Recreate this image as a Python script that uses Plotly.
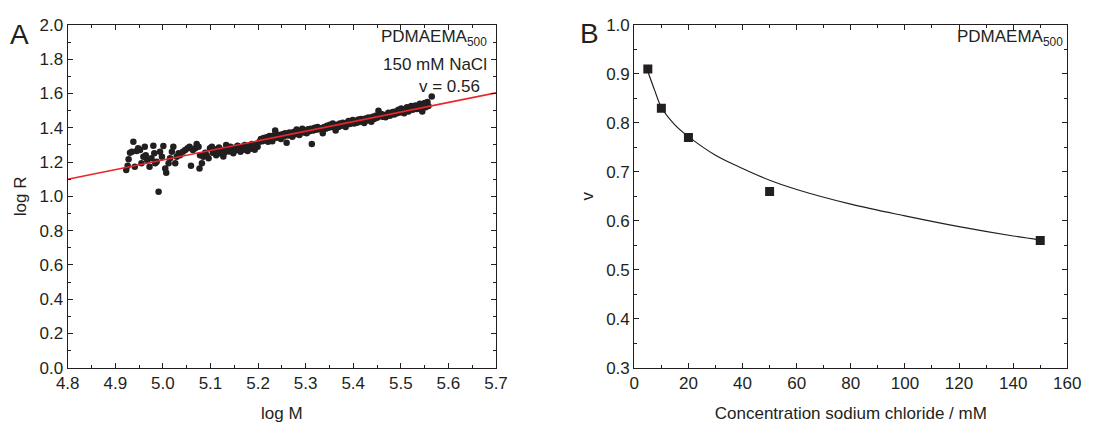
import plotly.graph_objects as go

# Panel A: log M vs log R scatter
logM = [4.923, 4.926, 4.928, 4.931, 4.935, 4.938, 4.941, 4.945, 4.948, 4.952, 4.955, 4.959, 4.962, 4.964,
        4.967, 4.972, 4.976, 4.980, 4.982, 4.984, 4.987, 4.991, 4.994, 4.998, 5.001, 5.005, 5.007, 5.012,
        5.015, 5.019, 5.022, 5.026, 5.029, 5.033, 5.036, 5.042, 5.047, 5.052, 5.056, 5.059, 5.063, 5.068,
        5.071, 5.075, 5.077, 5.078, 5.082, 5.085, 5.089, 5.092, 5.096, 5.099, 5.103,
        5.105, 5.108, 5.112, 5.115, 5.118, 5.121, 5.124, 5.127, 5.130, 5.133, 5.136, 5.139, 5.142, 5.145,
        5.148, 5.151, 5.154, 5.157, 5.160, 5.163, 5.166, 5.169, 5.172, 5.175, 5.178, 5.181, 5.184, 5.187,
        5.190, 5.193, 5.196, 5.199, 5.203, 5.206, 5.209, 5.212, 5.215, 5.218, 5.221, 5.224, 5.227, 5.230,
        5.233, 5.236, 5.239, 5.242, 5.245, 5.248, 5.251, 5.254, 5.257, 5.260, 5.263, 5.266, 5.269, 5.272,
        5.275, 5.278, 5.281, 5.284, 5.287, 5.290, 5.293, 5.296, 5.299, 5.302, 5.305, 5.308, 5.311, 5.313,
        5.316, 5.319, 5.322, 5.325, 5.328, 5.331, 5.336, 5.339, 5.342, 5.345, 5.348, 5.351, 5.354, 5.357,
        5.360, 5.363, 5.366, 5.369, 5.372, 5.375, 5.378, 5.381, 5.384, 5.387, 5.390, 5.393, 5.396, 5.399,
        5.402, 5.405, 5.408, 5.411, 5.414, 5.417, 5.420, 5.423, 5.426, 5.429, 5.432, 5.435, 5.438, 5.441,
        5.444, 5.447, 5.450, 5.453, 5.456, 5.459, 5.462, 5.465, 5.468, 5.471, 5.474, 5.477, 5.480, 5.483,
        5.486, 5.489, 5.492, 5.495, 5.498, 5.501, 5.504, 5.507, 5.510, 5.513, 5.516, 5.519, 5.522, 5.525,
        5.528, 5.531, 5.534, 5.537, 5.540, 5.543, 5.545, 5.548, 5.550, 5.552, 5.554, 5.556, 5.558, 5.565]
logR = [1.154, 1.179, 1.216, 1.255, 1.260, 1.319, 1.173, 1.265, 1.280, 1.270, 1.193, 1.231, 1.290, 1.240,
        1.212, 1.173, 1.222, 1.296, 1.251, 1.193, 1.202, 1.027, 1.260, 1.231, 1.294, 1.163, 1.138, 1.193,
        1.222, 1.260, 1.290, 1.193, 1.231, 1.251, 1.240, 1.260, 1.270, 1.280, 1.290, 1.179, 1.270, 1.280,
        1.305, 1.290, 1.163, 1.240, 1.193, 1.231, 1.255, 1.240, 1.222, 1.280, 1.290,
        1.255, 1.275, 1.240, 1.262, 1.285, 1.250, 1.270, 1.232, 1.258, 1.300, 1.278, 1.262, 1.290, 1.268,
        1.252, 1.283, 1.270, 1.295, 1.275, 1.260, 1.288, 1.272, 1.300, 1.282, 1.265, 1.293, 1.278, 1.305,
        1.288, 1.272, 1.300, 1.290, 1.318, 1.335, 1.322, 1.340, 1.328, 1.345, 1.318, 1.352, 1.338, 1.322,
        1.355, 1.385, 1.342, 1.360, 1.348, 1.335, 1.362, 1.350, 1.368, 1.313, 1.355, 1.372, 1.360, 1.348,
        1.375, 1.362, 1.390, 1.370, 1.358, 1.382, 1.395, 1.372, 1.385, 1.368, 1.392, 1.380, 1.395, 1.305,
        1.385, 1.400, 1.388, 1.405, 1.392, 1.398, 1.368, 1.405, 1.395, 1.412, 1.400, 1.418, 1.405, 1.425,
        1.410, 1.385, 1.418, 1.405, 1.425, 1.412, 1.430, 1.418, 1.405, 1.428, 1.440, 1.422, 1.435, 1.445,
        1.425, 1.440, 1.430, 1.448, 1.435, 1.452, 1.438, 1.428, 1.455, 1.442, 1.460, 1.448, 1.435, 1.465,
        1.452, 1.470, 1.458, 1.500, 1.468, 1.480, 1.465, 1.475, 1.462, 1.478, 1.488, 1.470, 1.482, 1.492,
        1.478, 1.495, 1.485, 1.505, 1.490, 1.512, 1.498, 1.485, 1.508, 1.520, 1.495, 1.512, 1.528, 1.505,
        1.518, 1.530, 1.510, 1.525, 1.540, 1.515, 1.495, 1.532, 1.545, 1.520, 1.538, 1.550, 1.528, 1.582]

# Linear fit line (red), endpoints
fit_logM = [4.8, 5.7]
fit_logR = [1.100, 1.604]

# Panel B: exponent v vs NaCl concentration
conc = [5, 10, 20, 50, 150]
nu = [0.91, 0.83, 0.77, 0.66, 0.56]

# Fitted curve
curve_conc = [5, 7.5, 10, 15, 20, 30, 40, 50, 60, 80, 100, 120, 140, 150]
curve_nu = [0.905, 0.867, 0.832, 0.796, 0.772, 0.734, 0.707, 0.683, 0.664, 0.634, 0.610, 0.588, 0.569, 0.561]

xticksA = [4.8, 4.9, 5.0, 5.1, 5.2, 5.3, 5.4, 5.5, 5.6, 5.7]
yticksA = [0.0, 0.2, 0.4, 0.6, 0.8, 1.0, 1.2, 1.4, 1.6, 1.8, 2.0]
xticksB = [0, 20, 40, 60, 80, 100, 120, 140, 160]
yticksB = [0.3, 0.4, 0.5, 0.6, 0.7, 0.8, 0.9, 1.0]

INK = "#231f20"
FONT = "Liberation Sans, Arial, sans-serif"
FS = 17

fig = go.Figure()
fig.add_trace(go.Scatter(x=logM, y=logR, mode="markers",
                         marker=dict(color=INK, size=6.5, symbol="circle"),
                         xaxis="x", yaxis="y", showlegend=False))
fig.add_trace(go.Scatter(x=fit_logM, y=fit_logR, mode="lines",
                         line=dict(color="#e8262b", width=1.6),
                         xaxis="x", yaxis="y", showlegend=False))
fig.add_trace(go.Scatter(x=curve_conc, y=curve_nu, mode="lines", line_shape="spline",
                         line=dict(color=INK, width=1.2),
                         xaxis="x2", yaxis="y2", showlegend=False))
fig.add_trace(go.Scatter(x=conc, y=nu, mode="markers",
                         marker=dict(color=INK, size=9, symbol="square"),
                         xaxis="x2", yaxis="y2", showlegend=False))

W, H = 1115, 423
def px(v):
    return v / W
def py(v):
    return 1 - v / H

axis_common = dict(showline=True, linecolor=INK, linewidth=1.2, mirror="allticks",
                   ticks="inside", ticklen=5, tickwidth=1, tickcolor=INK,
                   showgrid=False, zeroline=False, automargin=False,
                   tickfont=dict(family=FONT, size=FS, color=INK),
                   title_font=dict(family=FONT, size=FS, color=INK))

fig.update_layout(
    width=W, height=H, margin=dict(l=0, r=0, t=0, b=0),
    paper_bgcolor="white", plot_bgcolor="white",
    xaxis=dict(domain=[px(67.7), px(496)], range=[4.8, 5.7], tickvals=xticksA,
               ticktext=[f"{v:.1f}" for v in xticksA],
               minor=dict(ticks="inside", ticklen=3, dtick=0.05, tickcolor=INK, showgrid=False),
               title=dict(text="log M", standoff=18), anchor="y", **axis_common),
    yaxis=dict(domain=[py(367.7), py(25)], range=[0, 2.0], tickvals=yticksA,
               ticktext=[f"{v:.1f}" for v in yticksA],
               minor=dict(ticks="inside", ticklen=3, dtick=0.1, tickcolor=INK, showgrid=False),
               title=dict(text="log R", standoff=8), anchor="x", **axis_common),
    xaxis2=dict(domain=[px(634.3), px(1067.3)], range=[0, 160], tickvals=xticksB,
                minor=dict(ticks="inside", ticklen=3, dtick=10, tickcolor=INK, showgrid=False),
                title=dict(text="Concentration sodium chloride / mM", standoff=18), anchor="y2", **axis_common),
    yaxis2=dict(domain=[py(367.7), py(25)], range=[0.3, 1.0], tickvals=yticksB,
                ticktext=[f"{v:.1f}" for v in yticksB],
                minor=dict(ticks="inside", ticklen=3, dtick=0.05, tickcolor=INK, showgrid=False),
                title=dict(text="v", standoff=8), anchor="x2", **axis_common),
)

ann_font = dict(family=FONT, size=FS, color=INK)
fig.add_annotation(x=px(489), y=py(38), xref="paper", yref="paper", xanchor="right", yanchor="middle",
                   text="PDMAEMA<sub>500</sub>", showarrow=False, font=ann_font)
fig.add_annotation(x=px(489), y=py(64), xref="paper", yref="paper", xanchor="right", yanchor="middle",
                   text="150 mM NaCl", showarrow=False, font=ann_font)
fig.add_annotation(x=px(482), y=py(87), xref="paper", yref="paper", xanchor="right", yanchor="middle",
                   text="v = 0.56", showarrow=False, font=ann_font)
fig.add_annotation(x=px(1065), y=py(38), xref="paper", yref="paper", xanchor="right", yanchor="middle",
                   text="PDMAEMA<sub>500</sub>", showarrow=False, font=ann_font)
fig.add_annotation(x=px(8), y=py(34), xref="paper", yref="paper", xanchor="left", yanchor="middle",
                   text="A", showarrow=False, font=dict(family=FONT, size=28, color=INK))
fig.add_annotation(x=px(578), y=py(33), xref="paper", yref="paper", xanchor="left", yanchor="middle",
                   text="B", showarrow=False, font=dict(family=FONT, size=28, color=INK))

fig.write_html("out.html")
